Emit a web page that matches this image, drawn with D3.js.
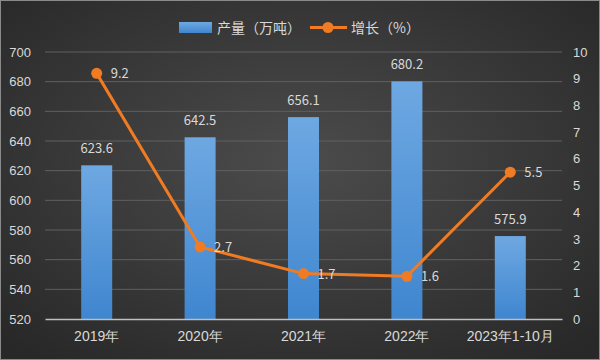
<!DOCTYPE html>
<html>
<head>
<meta charset="utf-8">
<script src="https://cdn.jsdelivr.net/npm/d3@7"></script>
<style>
  body { margin: 0; background: #2e2e2e; }
  svg { display: block; font-family: "Microsoft YaHei", "Noto Sans CJK SC", sans-serif; }
</style>
</head>
<body>
<div id="chart"></div>
<script>
// data
var categories = ["2019年", "2020年", "2021年", "2022年", "2023年1-10月"];
var output = [623.6, 642.5, 656.1, 680.2, 575.9];   // 产量（万吨）
var growth = [9.2, 2.7, 1.7, 1.6, 5.5];             // 增长（%）
var leftTicks = [520, 540, 560, 580, 600, 620, 640, 660, 680, 700];
var rightTicks = [0, 1, 2, 3, 4, 5, 6, 7, 8, 9, 10];

var W = 600, H = 360;
var margin = {top: 52, right: 38, bottom: 41, left: 45};
var width = W - margin.left - margin.right;
var height = H - margin.top - margin.bottom;

var svg = d3.select("#chart").append("svg")
  .attr("width", W).attr("height", H);

var defs = svg.append("defs");
var bg = defs.append("radialGradient").attr("id", "bg")
  .attr("cx", "50%").attr("cy", "45%").attr("r", "70%");
bg.append("stop").attr("offset", "0%").attr("stop-color", "#4c4c4c");
bg.append("stop").attr("offset", "100%").attr("stop-color", "#282828");

var barGrad = defs.append("linearGradient").attr("id", "barg")
  .attr("x1", 0).attr("y1", 0).attr("x2", 0).attr("y2", 1);
barGrad.append("stop").attr("offset", "0%").attr("stop-color", "#6ea8e2");
barGrad.append("stop").attr("offset", "100%").attr("stop-color", "#3f86cf");

svg.append("rect").attr("width", W).attr("height", H).attr("fill", "url(#bg)");
svg.append("rect").attr("x", 0.5).attr("y", 0.5).attr("width", W - 1).attr("height", H - 1)
  .attr("fill", "none").attr("stroke", "#8a8a8a").attr("stroke-width", 1);

var g = svg.append("g").attr("transform", `translate(${margin.left},${margin.top})`);

var x = d3.scaleBand().domain(categories).range([0, width]);
var yL = d3.scaleLinear().domain([520, 700]).range([height, 0]);
var yR = d3.scaleLinear().domain([0, 10]).range([height, 0]);

// gridlines
g.selectAll(".grid").data(leftTicks.slice(1)).enter().append("line")
  .attr("x1", 0).attr("x2", width)
  .attr("y1", d => yL(d)).attr("y2", d => yL(d))
  .attr("stroke", "#606060").attr("stroke-width", 1);

// left axis
var axL = g.append("g").call(d3.axisLeft(yL).tickValues(leftTicks).tickSize(0).tickPadding(14));
axL.select(".domain").remove();
axL.selectAll("text").attr("fill", "#d9d9d9").style("font-size", "13px");

// right axis
var axR = g.append("g").attr("transform", `translate(${width},0)`)
  .call(d3.axisRight(yR).tickValues(rightTicks).tickSize(0).tickPadding(11));
axR.select(".domain").remove();
axR.selectAll("text").attr("fill", "#d9d9d9").style("font-size", "13px");

// bars
var bw = 31;
g.selectAll(".bar").data(output).enter().append("rect")
  .attr("x", (d, i) => x(categories[i]) + x.bandwidth() / 2 - bw / 2)
  .attr("y", d => yL(d))
  .attr("width", bw)
  .attr("height", d => height - yL(d))
  .attr("fill", "url(#barg)");

g.selectAll(".blabel").data(output).enter().append("text")
  .attr("x", (d, i) => x(categories[i]) + x.bandwidth() / 2)
  .attr("y", d => yL(d) - 12)
  .attr("text-anchor", "middle")
  .attr("fill", "#d9d9d9").style("font-size", "13px")
  .text(d => d.toFixed(1));

// baseline / x axis
var axB = g.append("g").attr("transform", `translate(0,${height})`)
  .call(d3.axisBottom(x).tickSize(0).tickPadding(12));
axB.select(".domain").attr("stroke", "#bfbfbf").attr("stroke-width", 1.5);
axB.selectAll("text").attr("fill", "#d9d9d9").style("font-size", "14px");

// line
var line = d3.line()
  .x((d, i) => x(categories[i]) + x.bandwidth() / 2)
  .y(d => yR(d));
g.append("path").datum(growth)
  .attr("d", line)
  .attr("fill", "none")
  .attr("stroke", "#f07b22").attr("stroke-width", 3);

g.selectAll(".dot").data(growth).enter().append("circle")
  .attr("cx", (d, i) => x(categories[i]) + x.bandwidth() / 2)
  .attr("cy", d => yR(d))
  .attr("r", 5.5)
  .attr("fill", "#f07b22");

g.selectAll(".llabel").data(growth).enter().append("text")
  .attr("x", (d, i) => x(categories[i]) + x.bandwidth() / 2 + 14)
  .attr("y", d => yR(d) + 5)
  .attr("fill", "#d9d9d9").style("font-size", "13px")
  .text(d => d.toFixed(1));

// legend
var lg = svg.append("g");
lg.append("rect").attr("x", 179).attr("y", 22).attr("width", 33).attr("height", 11)
  .attr("fill", "url(#barg)");
lg.append("text").attr("x", 217).attr("y", 32.5).attr("fill", "#d9d9d9")
  .style("font-size", "14px").text("产量（万吨）");
lg.append("line").attr("x1", 310).attr("x2", 347).attr("y1", 27.5).attr("y2", 27.5)
  .attr("stroke", "#f07b22").attr("stroke-width", 3);
lg.append("circle").attr("cx", 328).attr("cy", 27.5).attr("r", 5.5).attr("fill", "#f07b22");
lg.append("text").attr("x", 351).attr("y", 32.5).attr("fill", "#d9d9d9")
  .style("font-size", "14px").text("增长（%）");
</script>
</body>
</html>
